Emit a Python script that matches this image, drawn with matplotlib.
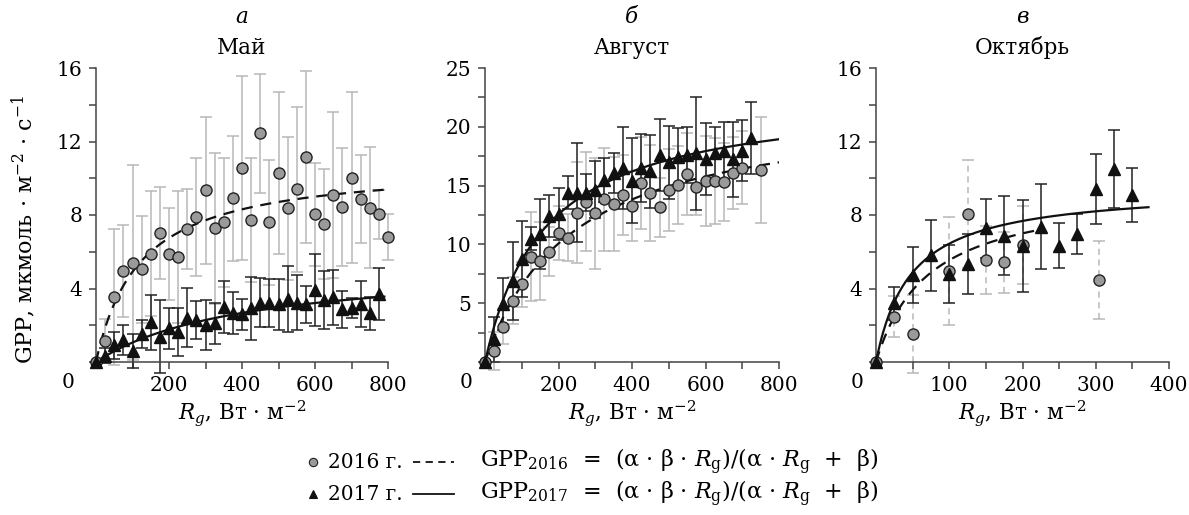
import numpy as np
import matplotlib.pyplot as plt
from matplotlib.lines import Line2D
from matplotlib.ticker import MultipleLocator, FuncFormatter

plt.rcParams["font.family"] = ["DejaVu Serif"]
plt.rcParams["mathtext.fontset"] = "dejavuserif"
plt.rcParams["font.size"] = 14

# --- Май ---
may_x16 = [0, 25, 50, 75, 100, 125, 150, 175, 200, 225, 250, 275, 300, 325, 350, 375, 400,
           425, 450, 475, 500, 525, 550, 575, 600, 625, 650, 675, 700, 725, 750, 775, 800]
may_y16 = [0, 1.14, 3.55, 4.97, 5.4, 5.04, 5.9, 7.0, 5.86, 5.7, 7.24, 7.9, 9.36, 7.27, 7.6, 8.9, 10.57,
           7.73, 12.44, 7.6, 10.3, 8.36, 9.4, 11.14, 8.03, 7.5, 9.09, 8.45, 10.03, 8.85, 8.4, 8.03, 6.82]
may_e16 = [0, 1.2, 3.7, 2.5, 5.3, 2.9, 3.4, 2.5, 2.5, 3.6, 2.2, 3.2, 4.0, 4.1, 3.5, 3.4, 5.0,
           3.35, 3.25, 3.4, 4.4, 3.9, 4.5, 4.67, 2.8, 3.0, 4.5, 3.2, 4.65, 2.4, 3.3, 1.35, 1.25]
may_x17 = [0, 25, 50, 75, 100, 125, 150, 175, 200, 225, 250, 275, 300, 325, 350, 375, 400,
           425, 450, 475, 500, 525, 550, 575, 600, 625, 650, 675, 700, 725, 750, 775]
may_y17 = [0, 0.35, 0.92, 1.2, 0.6, 1.52, 2.16, 1.38, 1.83, 1.65, 2.41, 2.29, 2.01, 2.1, 3.0, 2.65, 2.6,
           2.92, 3.23, 3.23, 3.14, 3.41, 3.23, 3.14, 3.92, 3.37, 3.52, 2.87, 2.92, 3.14, 2.65, 3.7]
may_e17 = [0, 0.4, 0.73, 0.8, 0.9, 0.75, 1.5, 2.0, 1.1, 1.3, 1.6, 1.05, 1.35, 1.1, 1.4, 1.15, 0.85,
           1.7, 1.35, 1.3, 1.4, 1.8, 1.5, 1.0, 1.95, 1.6, 1.5, 1.0, 0.55, 1.25, 0.9, 1.4]
may_fit16 = (0.09, 10.8, 790)    # alpha, beta, R max
may_fit17 = (0.0132, 5.4, 790)

# --- Август ---
aug_x16 = [0, 25, 50, 75, 100, 125, 150, 175, 200, 225, 250, 275, 300, 325, 350, 375, 400,
           425, 450, 475, 500, 525, 550, 575, 600, 625, 650, 675, 700, 750]
aug_y16 = [0, 0.96, 3.0, 5.2, 6.6, 8.95, 8.6, 9.38, 11.0, 10.57, 12.7, 13.63, 12.64, 13.83, 13.4, 14.17,
           13.26, 15.25, 14.35, 13.15, 14.63, 15.05, 15.96, 14.86, 15.4, 15.39, 15.33, 16.05, 16.52, 16.33]
aug_e16 = [0, 1.6, 1.5, 2.0, 1.9, 3.8, 3.3, 2.1, 2.3, 2.0, 4.3, 4.2, 4.7, 4.35, 4.0, 3.4,
           3.0, 3.9, 4.1, 2.5, 3.45, 3.3, 3.5, 2.4, 3.8, 3.65, 3.3, 3.05, 3.1, 4.5]
aug_x17 = [0, 25, 50, 75, 100, 125, 150, 175, 200, 225, 250, 275, 300, 325, 350, 375, 400,
           425, 450, 475, 500, 525, 550, 575, 600, 625, 650, 675, 700, 725]
aug_y17 = [0, 1.93, 4.93, 6.9, 8.76, 10.5, 10.9, 12.4, 12.6, 14.4, 14.4, 14.4, 14.65, 15.48, 16.1, 16.47,
           15.42, 16.47, 16.2, 17.6, 16.98, 17.46, 17.6, 17.75, 17.24, 17.8, 17.97, 17.24, 17.97, 19.07]
aug_e17 = [0, 1.9, 2.2, 3.3, 3.2, 1.0, 3.0, 1.8, 2.2, 1.4, 4.2, 1.6, 2.4, 1.85, 1.7, 3.5,
           3.6, 2.9, 3.1, 3.05, 3.1, 2.4, 2.4, 4.8, 3.05, 2.2, 2.4, 3.2, 2.6, 3.05]
aug_fit16 = (0.093, 22.0, 800)
aug_fit17 = (0.14, 22.8, 800)

# --- Октябрь ---
oct_x16 = [0, 25, 50, 100, 125, 150, 175, 200, 305]
oct_y16 = [0, 2.47, 1.52, 4.95, 8.04, 5.55, 5.43, 6.37, 4.46]
oct_e16 = [0, 1.1, 2.1, 2.95, 2.95, 1.85, 1.65, 2.1, 2.1]
oct_x17 = [0, 25, 50, 75, 100, 125, 150, 175, 200, 225, 250, 275, 300, 325, 350]
oct_y17 = [0, 3.19, 4.73, 5.82, 4.79, 5.33, 7.27, 6.86, 6.33, 7.36, 6.33, 6.97, 9.4, 10.5, 9.09]
oct_e17 = [0, 0.9, 1.53, 1.93, 1.56, 1.63, 1.62, 2.15, 2.5, 2.3, 1.22, 1.1, 1.9, 2.1, 1.45]
oct_fit16 = (0.133, 9.5, 225)
oct_fit17 = (0.2, 9.5, 372)

panels = [
    dict(letter="а", title="Май", xs=(may_x16, may_y16, may_e16), ts=(may_x17, may_y17, may_e17),
         fit16=may_fit16, fit17=may_fit17, xlim=800, xmaj=200, xmin=100, ylim=16, ymaj=4, ymin=2,
         rect=[96, 68, 292, 294], zero_dx=-28, dash_err=False),
    dict(letter="б", title="Август", xs=(aug_x16, aug_y16, aug_e16), ts=(aug_x17, aug_y17, aug_e17),
         fit16=aug_fit16, fit17=aug_fit17, xlim=800, xmaj=200, xmin=100, ylim=25, ymaj=5, ymin=2.5,
         rect=[485, 68, 294, 294], zero_dx=-19, dash_err=False),
    dict(letter="в", title="Октябрь", xs=(oct_x16, oct_y16, oct_e16), ts=(oct_x17, oct_y17, oct_e17),
         fit16=oct_fit16, fit17=oct_fit17, xlim=400, xmaj=100, xmin=50, ylim=16, ymaj=4, ymin=2,
         rect=[876, 68, 293, 294], zero_dx=-19, dash_err=True),
]

W, H = 1189, 515
fig = plt.figure(figsize=(W / 100, H / 100), dpi=100)
axis_col = "#444444"
tick_fs = 14.5
label_fs = 15.5


def gpp(r, a, b):
    return a * b * r / (a * r + b)


def no_zero(v, pos):
    return "" if abs(v) < 1e-9 else f"{v:g}"


for i, p in enumerate(panels):
    x0, y0, w, h = p["rect"]
    ax = fig.add_axes([x0 / W, 1 - (y0 + h) / H, w / W, h / H])

    x16, y16, e16 = p["xs"]
    x17, y17, e17 = p["ts"]

    _, _, bars16 = ax.errorbar(x16, y16, yerr=e16, fmt="none", ecolor="#b8b8b8",
                               elinewidth=1.1, capsize=4, capthick=1.1, zorder=1, clip_on=False)
    if p["dash_err"]:
        for b in bars16:
            b.set_linestyle((0, (4, 3)))
    ax.errorbar(x17, y17, yerr=e17, fmt="none", ecolor="#222222",
                elinewidth=1.1, capsize=4, capthick=1.1, zorder=2, clip_on=False)

    a16, b16, r16 = p["fit16"]
    a17, b17, r17 = p["fit17"]
    rr16 = np.linspace(0, r16, 300)
    rr17 = np.linspace(0, r17, 300)
    ax.plot(rr16, gpp(rr16, a16, b16), color="#111111", lw=1.6, ls=(0, (5, 3.5)), zorder=3)
    ax.plot(rr17, gpp(rr17, a17, b17), color="#111111", lw=1.6, zorder=3)

    ax.plot(x16, y16, "o", ms=8, mfc="#9a9a9a", mec="#222222", mew=1.0, zorder=4, clip_on=False)
    ax.plot(x17, y17, "^", ms=8, mfc="#111111", mec="#111111", zorder=5, clip_on=False)

    ax.set_xlim(0, p["xlim"])
    ax.set_ylim(0, p["ylim"])
    ax.xaxis.set_major_locator(MultipleLocator(p["xmaj"]))
    ax.xaxis.set_minor_locator(MultipleLocator(p["xmin"]))
    ax.yaxis.set_major_locator(MultipleLocator(p["ymaj"]))
    ax.yaxis.set_minor_locator(MultipleLocator(p["ymin"]))
    ax.xaxis.set_major_formatter(FuncFormatter(no_zero))
    ax.yaxis.set_major_formatter(FuncFormatter(no_zero))
    ax.tick_params(which="both", direction="out", length=5, width=1.1, color=axis_col)
    ax.tick_params(axis="both", which="major", labelsize=tick_fs, pad=5)
    for s in ["top", "right"]:
        ax.spines[s].set_visible(False)
    for s in ["left", "bottom"]:
        ax.spines[s].set_color(axis_col)
        ax.spines[s].set_linewidth(1.1)

    ax.annotate("0", xy=(0, 0), xycoords="axes fraction", xytext=(p["zero_dx"], -21),
                textcoords="offset pixels", ha="center", va="center", fontsize=tick_fs)

    ax.text(0.5, 1.175, p["letter"], transform=ax.transAxes, ha="center", va="center",
            fontsize=label_fs, style="italic")
    ax.set_title(p["title"], fontsize=label_fs, pad=10)

    ax.set_xlabel(r"$R_g$, Вт · м$^{-2}$", fontsize=label_fs)
    ax.xaxis.set_label_coords(0.5, -0.125)
    if i == 0:
        ax.set_ylabel(r"GPP, мкмоль · м$^{-2}$ · с$^{-1}$", fontsize=16)
        ax.yaxis.set_label_coords(-0.2, 0.45)

# legend rows drawn in figure coordinates
rows = [
    ("o", "#9a9a9a", "#222222", "2016 г.", (0, (4, 3)),
     r"GPP$_{2016}$  =  (α · β · $R_{\rm g}$)/(α · $R_{\rm g}$  +  β)", 462),
    ("^", "#111111", "#111111", "2017 г.", "-",
     r"GPP$_{2017}$  =  (α · β · $R_{\rm g}$)/(α · $R_{\rm g}$  +  β)", 494),
]
for mk, fc, ec, lab, ls, formula, yy in rows:
    fy = 1 - yy / H
    fig.add_artist(Line2D([313 / W], [fy], marker=mk, ms=6, mfc=fc, mec=ec, mew=0.8, ls="none"))
    fig.text(328 / W, fy, lab, ha="left", va="center", fontsize=14.5)
    fig.add_artist(Line2D([413 / W, 454 / W], [fy, fy], color="#111111", lw=1.3, ls=ls))
    fig.text(480 / W, fy, formula, ha="left", va="center", fontsize=16)

fig.savefig("out.png", dpi=100)
